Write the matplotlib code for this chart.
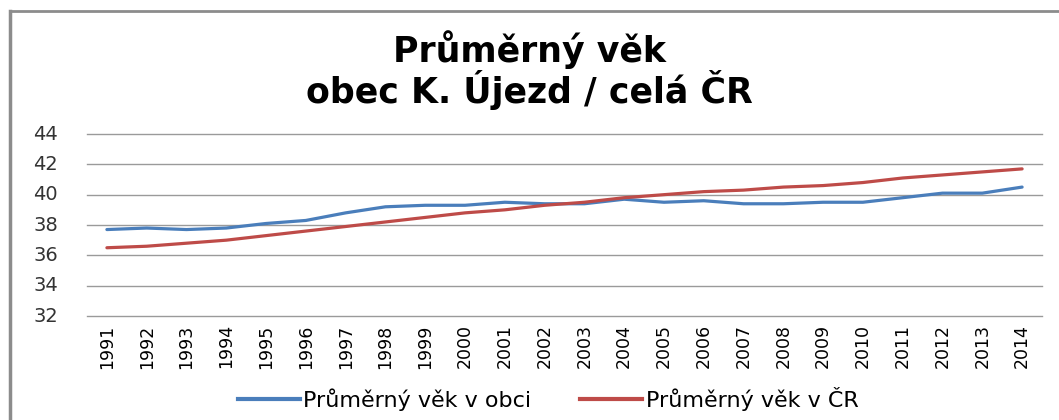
import matplotlib.pyplot as plt
from matplotlib.lines import Line2D
from matplotlib.transforms import ScaledTranslation

years = [str(y) for y in range(1991, 2015)]
vek_obec = [37.7, 37.8, 37.7, 37.8, 38.1, 38.3, 38.8, 39.2, 39.3, 39.3, 39.5, 39.4,
            39.4, 39.7, 39.5, 39.6, 39.4, 39.4, 39.5, 39.5, 39.8, 40.1, 40.1, 40.5]
vek_cr = [36.5, 36.6, 36.8, 37.0, 37.3, 37.6, 37.9, 38.2, 38.5, 38.8, 39.0, 39.3,
          39.5, 39.8, 40.0, 40.2, 40.3, 40.5, 40.6, 40.8, 41.1, 41.3, 41.5, 41.7]
y_ticks = [32, 34, 36, 38, 40, 42, 44]
labels = ["Průměrný věk v obci", "Průměrný věk v ČR"]
title = "Průměrný věk\nobec K. Újezd / celá ČR"

blue = "#4a7ebb"
red = "#be4b48"

plt.rcParams["xtick.major.pad"] = 6
plt.rcParams["xtick.major.size"] = 0
plt.rcParams["ytick.major.size"] = 0

W, H = 1059, 420
fig = plt.figure(figsize=(W / 100, H / 100), dpi=100)
ax = fig.add_axes([87 / W, 1 - 316 / H, (1042 - 87) / W, (316 - 134) / H])

x = range(len(years))
ax.plot(x, vek_obec, color=blue, linewidth=2.3, solid_capstyle="round")
ax.plot(x, vek_cr, color=red, linewidth=2.3, solid_capstyle="round")

ax.set_xlim(-0.5, len(years) - 0.5)
ax.set_ylim(32, 44)
ax.set_yticks(y_ticks)
ax.set_yticklabels([])
ax.set_xticks(list(x))
ax.set_xticklabels(years, rotation=90, fontsize=12.5)

# y labels placed by hand, well away from the plot like in the original
shift = ax.get_yaxis_transform() + ScaledTranslation(-0.29, 0, fig.dpi_scale_trans)
for v in y_ticks:
    ax.text(0, v, str(v), transform=shift, ha="right", va="center",
            fontsize=14, color="#333333")

ax.grid(axis="y", color="#9a9a9a", linewidth=1.0)
for gl in ax.get_ygridlines():
    gl.set_clip_on(False)
ax.set_axisbelow(True)
for s in ax.spines.values():
    s.set_visible(False)

fig.text(0.5, 1 - 70 / H, title, ha="center", va="center", fontsize=25,
         fontweight="bold", linespacing=1.05)

handles = [Line2D([], [], color=blue, linewidth=3), Line2D([], [], color=red, linewidth=3)]
fig.legend(handles, labels, loc="center", bbox_to_anchor=(548 / W, 1 - 399 / H),
           ncol=2, frameon=False, fontsize=16, handlelength=2.8, handletextpad=0.15,
           columnspacing=2.2)

# border of the chart area
fig.add_artist(Line2D([10 / W, 10 / W], [0, 1 - 11 / H], color="#8c8c8c", linewidth=2.5,
                      transform=fig.transFigure))
fig.add_artist(Line2D([10 / W, 1], [1 - 11 / H, 1 - 11 / H], color="#8c8c8c", linewidth=2,
                      transform=fig.transFigure))

fig.savefig("out.png", dpi=100)
